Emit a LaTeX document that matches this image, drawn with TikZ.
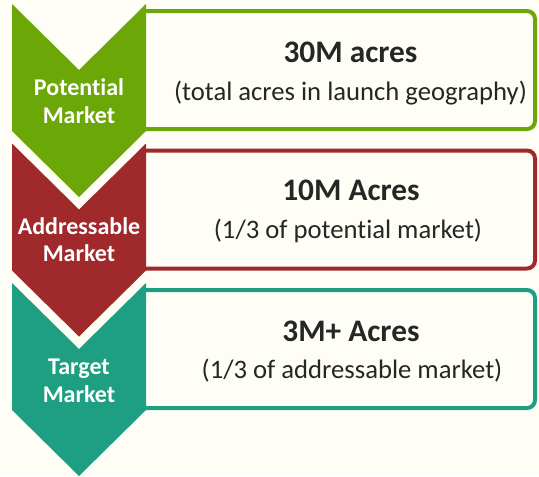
\documentclass[tikz,border=0pt]{standalone}
\usepackage{fontspec}
\setmainfont{Carlito}[Ligatures={NoCommon}]
\definecolor{bgc}{HTML}{FFFEF6}
\definecolor{cgreen}{HTML}{6BA707}
\definecolor{cred}{HTML}{A0292C}
\definecolor{cteal}{HTML}{1F9F82}
\definecolor{txt}{HTML}{262626}
\tikzset{
  infobox/.style={line width=3pt, fill=bgc, rounded corners=6pt},
  lbl/.style={text=white, font=\fontsize{18}{20}\selectfont\bfseries, anchor=base, inner sep=0pt},
  ttl/.style={text=txt, font=\fontsize{23.5}{26}\selectfont\bfseries, anchor=base, inner sep=0pt},
  sub/.style={text=txt, font=\fontsize{20}{24}\selectfont, anchor=base, inner sep=0pt},
}
\newcommand{\chevronat}[2]{%
  \fill[#2] (12,#1) -- (79,#1+66) -- (146,#1) -- (146,#1+127) -- (79,#1+193) -- (12,#1+127) -- cycle;}
\newcommand{\infoboxat}[3]{%
  \fill[bgc] (146,#1) rectangle (535,#2);
  \draw[infobox, draw=#3, fill=none] (146,#1) -- (535,#1) -- (535,#2) -- (146,#2);}
\begin{document}
\begin{tikzpicture}[x=0.75pt,y=-0.75pt]
\fill[bgc] (0,0) rectangle (539,476);
\useasboundingbox (0,0) rectangle (539,476);
% level 1
\infoboxat{11}{129}{cgreen}
\chevronat{4}{cgreen}
% level 2
\infoboxat{150.5}{268.5}{cred}
\chevronat{143.5}{cred}
% level 3
\infoboxat{290}{408}{cteal}
\chevronat{283}{cteal}
% labels
\node[lbl] (p1) at (79,95) {Potential};
\node[lbl] (p2) at (79,123) {Market};
\node[lbl] (a1) at (79,234) {Addressable};
\node[lbl] (a2) at (79,261.5) {Market};
\node[lbl] (t1) at (79,374) {Target};
\node[lbl] (t2) at (79,402) {Market};
% texts
\node[ttl] (h1) at (350.5,62) {30M acres};
\node[sub] (s1) at (350.5,100) {(total acres in launch geography)};
\node[ttl] (h2) at (351,200.5) {10M Acres};
\node[sub] (s2) at (348,238) {(1/3 of potential market)};
\node[ttl] (h3) at (351,341) {3M+ Acres};
\node[sub] (s3) at (352,378) {(1/3 of addressable market)};
\end{tikzpicture}
\end{document}
